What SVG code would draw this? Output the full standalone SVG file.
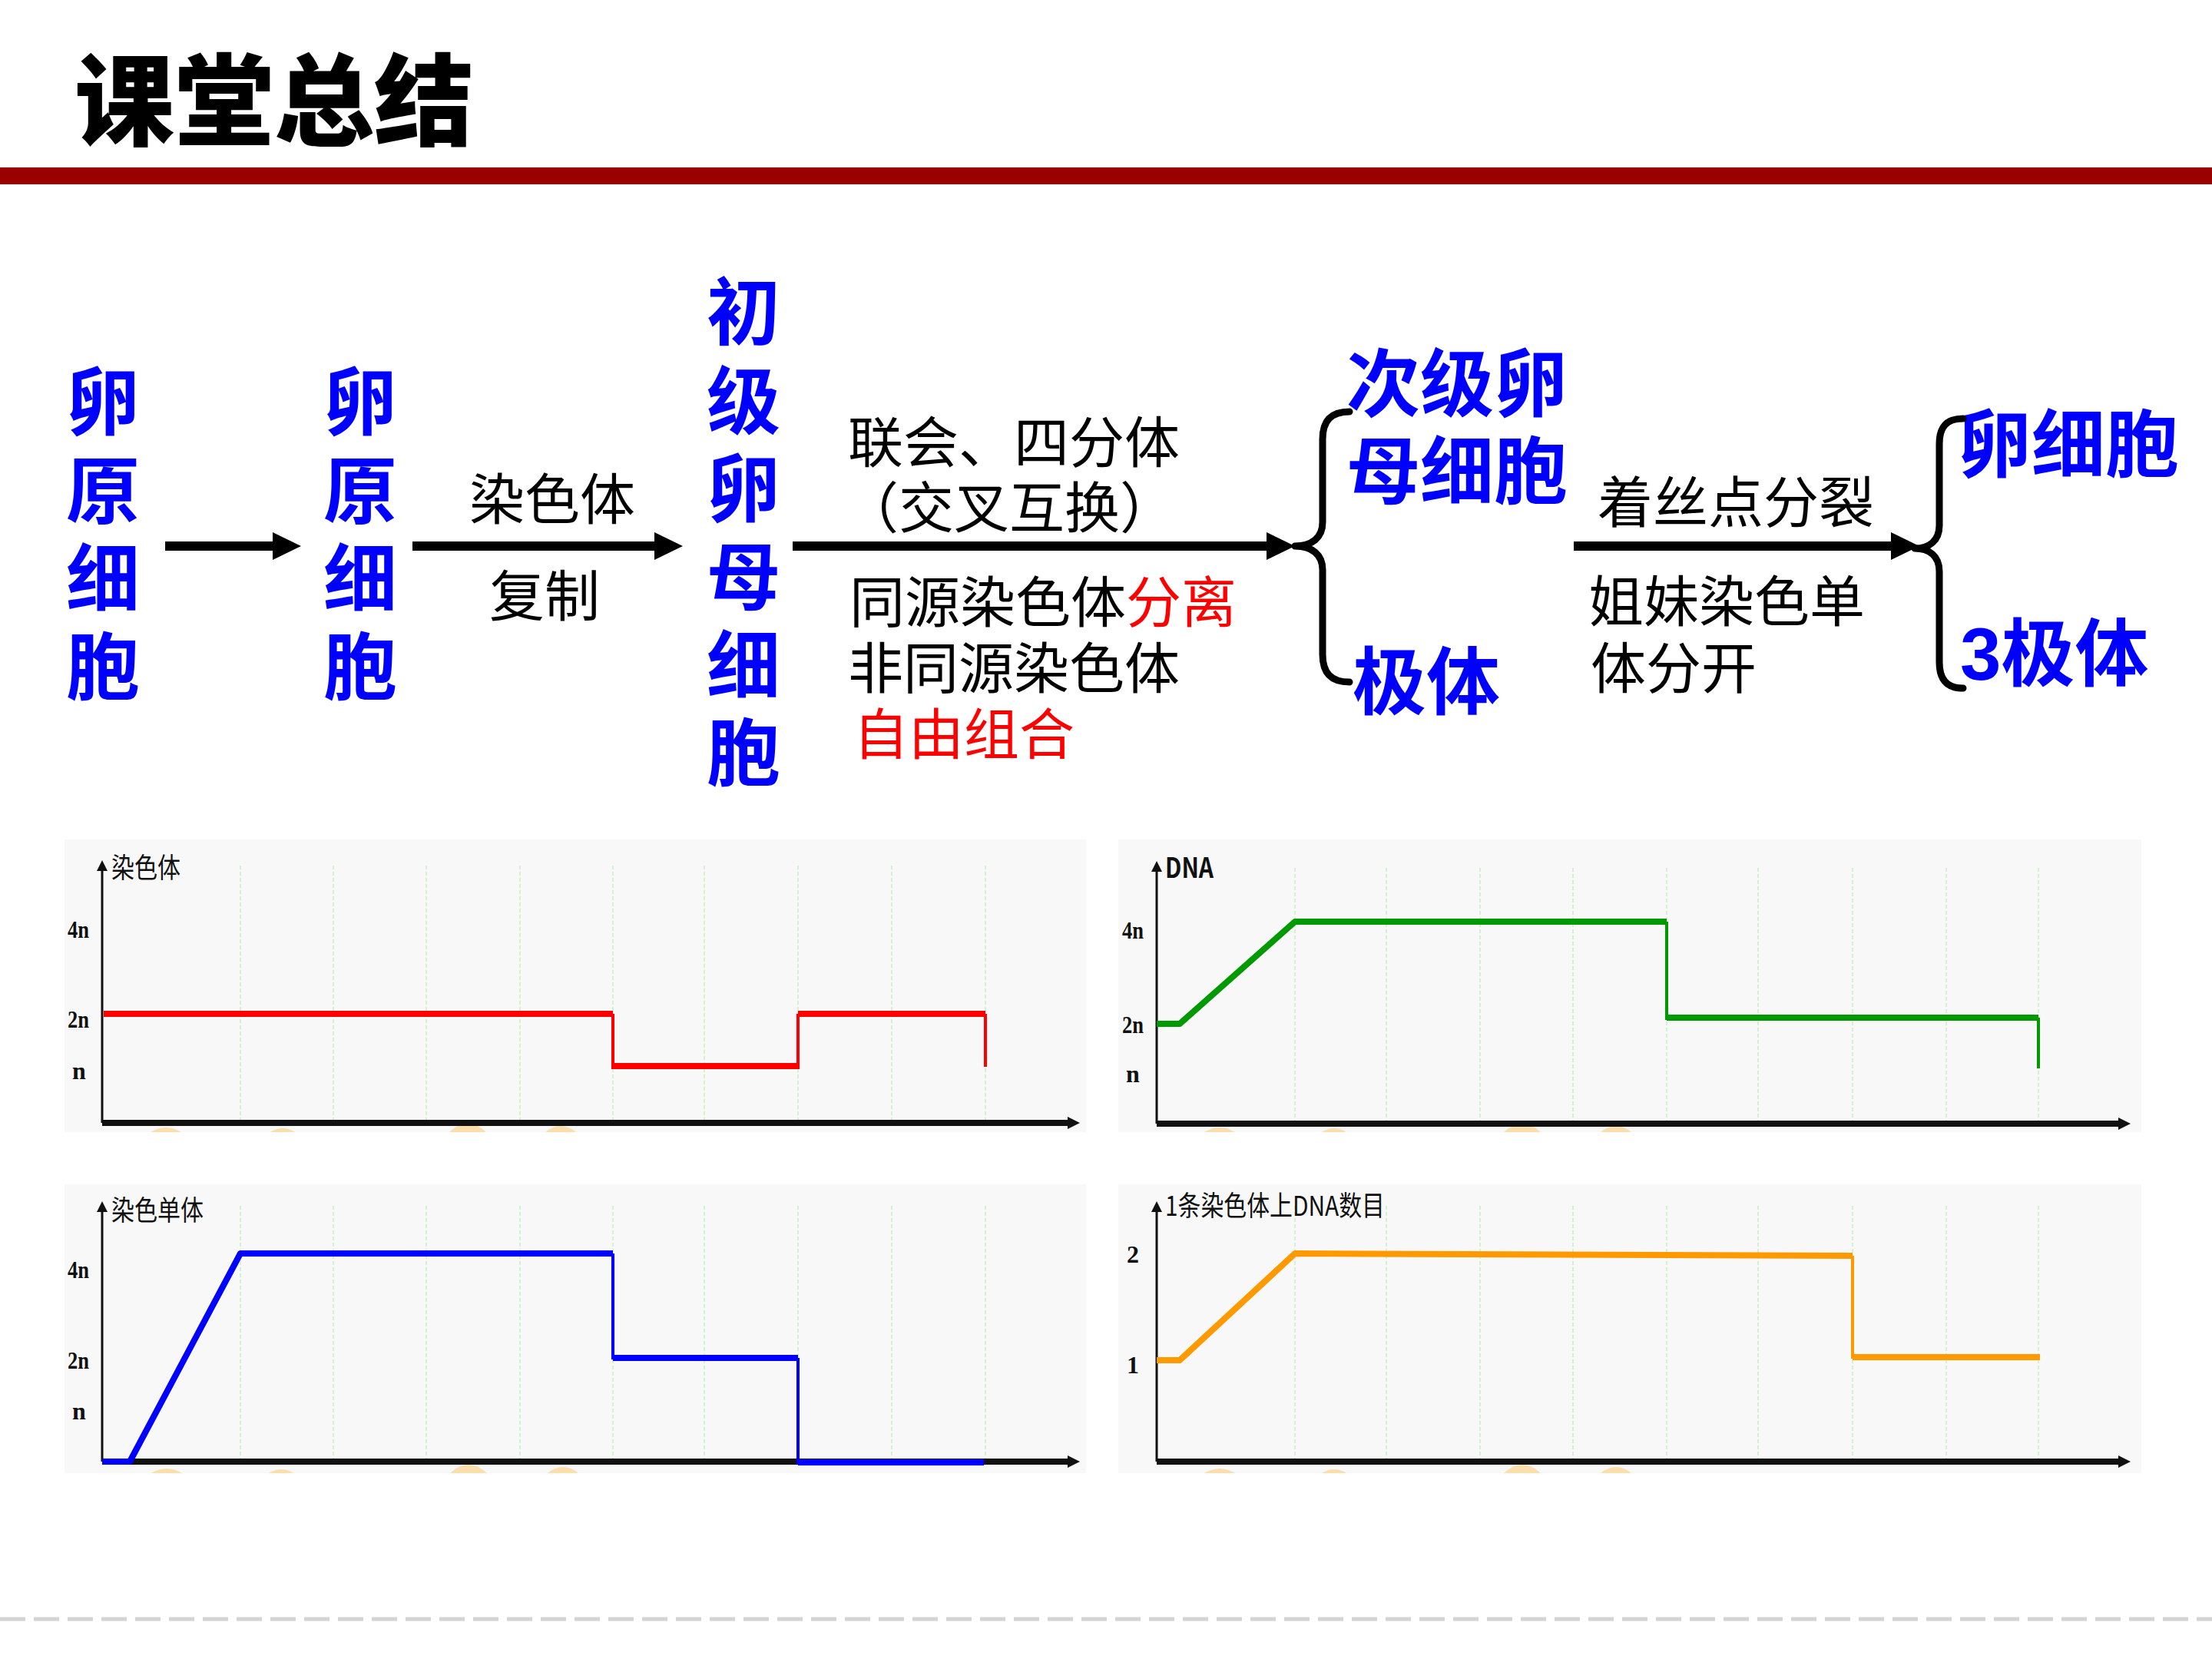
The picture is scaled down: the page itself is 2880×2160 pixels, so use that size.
<svg xmlns="http://www.w3.org/2000/svg" width="2880" height="2160" viewBox="0 0 2880 2160">
<defs>
<style>
.title{font-family:"Noto Sans CJK SC","Noto Sans",sans-serif;font-weight:900;font-size:130px;fill:#000}
.blue{font-family:"Liberation Sans","Noto Sans CJK SC",sans-serif;font-weight:700;font-size:96px;fill:#0000FF;dominant-baseline:central}
.body{font-family:"Liberation Sans","Noto Sans CJK SC",sans-serif;font-weight:400;font-size:72px;fill:#000;dominant-baseline:central}
.red{fill:#FF0000}
.conn{stroke:#000;stroke-width:12;fill:none}
.brace{stroke:#000;stroke-width:9;fill:none;stroke-linecap:round;stroke-linejoin:round}
.panel{fill:#f8f8f8}
.grid{stroke:#c9efc9;stroke-width:1.6;stroke-dasharray:5 3}
.axis{stroke:#111;stroke-width:3;fill:none}
.xaxis{stroke:#111;stroke-width:8;fill:none}
.lab{font-family:"Liberation Serif","Noto Sans CJK SC",serif;font-weight:700;font-size:32px;fill:#111;text-anchor:middle;dominant-baseline:central}
.ctitle{font-family:"Noto Sans CJK SC","Noto Sans",sans-serif;font-size:36px;fill:#111;dominant-baseline:central}
.blob{fill:#FDD79A;opacity:0.8}
</style>
<marker id="ah" viewBox="0 0 37 36" refX="2" refY="18" markerWidth="37" markerHeight="36" markerUnits="userSpaceOnUse" orient="auto">
<path d="M0,0 L37,18 L0,36 Z" fill="#000"/>
</marker>
<marker id="sa" viewBox="0 0 14 14" refX="2" refY="7" markerWidth="14" markerHeight="14" markerUnits="userSpaceOnUse" orient="auto">
<path d="M0,0 L14,7 L0,14 Z" fill="#111"/>
</marker>
</defs>
<rect width="2880" height="2160" fill="#fff"/>

<g id="header">
<text class="title" x="97" y="122" dominant-baseline="central">课堂总结</text>
<rect x="0" y="218" width="2880" height="22" fill="#990000"/>
</g>

<g id="node-oogonium1">
<text class="blue" text-anchor="middle"><tspan x="134" y="524">卵</tspan><tspan x="134" y="640">原</tspan><tspan x="134" y="754">细</tspan><tspan x="134" y="869">胞</tspan></text>
</g>
<g id="node-oogonium2">
<text class="blue" text-anchor="middle"><tspan x="469" y="524">卵</tspan><tspan x="469" y="640">原</tspan><tspan x="469" y="754">细</tspan><tspan x="469" y="869">胞</tspan></text>
</g>
<g id="node-primary-oocyte">
<text class="blue" text-anchor="middle"><tspan x="968" y="407">初</tspan><tspan x="968" y="523">级</tspan><tspan x="968" y="637">卵</tspan><tspan x="968" y="752">母</tspan><tspan x="968" y="867">细</tspan><tspan x="968" y="981">胞</tspan></text>
</g>
<g id="node-secondary-oocyte">
<text class="blue"><tspan x="1753" y="500">次级卵</tspan><tspan x="1753" y="614">母细胞</tspan></text>
</g>
<g id="node-polar-body1">
<text class="blue" x="1761" y="888">极体</text>
</g>
<g id="node-egg">
<text class="blue" x="2549" y="579">卵细胞</text>
</g>
<g id="node-polar-body3">
<text class="blue" x="2552" y="851">3极体</text>
</g>

<g id="connectors">
<line class="conn" x1="215" y1="711" x2="357" y2="711" marker-end="url(#ah)"/>
<line class="conn" x1="537" y1="711" x2="854" y2="711" marker-end="url(#ah)"/>
<line class="conn" x1="1032" y1="711" x2="1651" y2="711" marker-end="url(#ah)"/>
<line class="conn" x1="2049" y1="711" x2="2464" y2="711" marker-end="url(#ah)"/>
<path class="brace" d="M1757 536 C1733 536 1722 548 1722 572 V680 C1722 700 1708 711 1686 711 C1708 711 1722 722 1722 742 V852 C1722 876 1733 888 1757 888"/>
<path class="brace" d="M2556 545 C2534 545 2525 556 2525 578 V684 C2525 704 2512 714 2493 714 C2512 714 2525 724 2525 744 V862 C2525 884 2534 896 2556 896"/>
</g>

<g id="label-replication">
<text class="body" x="719" y="651" text-anchor="middle">染色体</text>
<text class="body" x="709" y="777" text-anchor="middle">复制</text>
</g>
<g id="label-meiosis1">
<text class="body"><tspan x="1104" y="577">联会、四分体</tspan><tspan x="1098" y="662">（交叉互换）</tspan></text>
<text class="body"><tspan x="1106" y="785">同源染色体</tspan><tspan class="red">分离</tspan><tspan x="1104" y="871">非同源染色体</tspan><tspan class="red" x="1111" y="957">自由组合</tspan></text>
</g>
<g id="label-meiosis2">
<text class="body" x="2080" y="655">着丝点分裂</text>
<text class="body"><tspan x="2068" y="784">姐妹染色单</tspan><tspan x="2071" y="871">体分开</tspan></text>
</g>

<g id="chart-chromosome">
<rect class="panel" x="84" y="1093" width="1330" height="381"/>
<g class="grid">
<line x1="313" y1="1127" x2="313" y2="1462"/><line x1="434" y1="1127" x2="434" y2="1462"/><line x1="555" y1="1127" x2="555" y2="1462"/><line x1="677" y1="1127" x2="677" y2="1462"/><line x1="798" y1="1127" x2="798" y2="1462"/><line x1="917" y1="1127" x2="917" y2="1462"/><line x1="1039" y1="1127" x2="1039" y2="1462"/><line x1="1161" y1="1127" x2="1161" y2="1462"/><line x1="1283" y1="1127" x2="1283" y2="1462"/>
</g>
<path class="blob" d="M196 1474 Q216 1462 236 1474Z M352 1474 Q368 1464 384 1474Z M585 1474 Q609 1452 633 1474Z M710 1474 Q730 1458 750 1474Z"/>
<line class="axis" x1="133" y1="1462" x2="133" y2="1132" marker-end="url(#sa)"/>
<line class="xaxis" x1="133" y1="1462" x2="1392" y2="1462"/>
<path d="M1390 1454 L1406 1462 L1390 1470 Z" fill="#111"/>
<text class="ctitle" x="145" y="1127" textLength="90" lengthAdjust="spacingAndGlyphs">染色体</text>
<text class="lab" x="102" y="1210" textLength="28" lengthAdjust="spacingAndGlyphs">4n</text>
<text class="lab" x="102" y="1327" textLength="28" lengthAdjust="spacingAndGlyphs">2n</text>
<text class="lab" x="103" y="1394">n</text>
<path d="M135 1320 H798 M798 1388 H1039 M1039 1320 H1283" stroke="#FF0000" stroke-width="8" fill="none"/>
<path d="M798 1320 V1392 M1039 1392 V1320 M1283 1320 V1389" stroke="#FF0000" stroke-width="4" fill="none"/>
</g>

<g id="chart-dna">
<rect class="panel" x="1456" y="1093" width="1332" height="381"/>
<g class="grid">
<line x1="1686" y1="1130" x2="1686" y2="1463"/><line x1="1805" y1="1130" x2="1805" y2="1463"/><line x1="1927" y1="1130" x2="1927" y2="1463"/><line x1="2048" y1="1130" x2="2048" y2="1463"/><line x1="2170" y1="1130" x2="2170" y2="1463"/><line x1="2289" y1="1130" x2="2289" y2="1463"/><line x1="2412" y1="1130" x2="2412" y2="1463"/><line x1="2534" y1="1130" x2="2534" y2="1463"/><line x1="2654" y1="1130" x2="2654" y2="1463"/>
</g>
<path class="blob" d="M1568 1474 Q1588 1462 1608 1474Z M1721 1474 Q1737 1464 1753 1474Z M1958 1474 Q1982 1452 2006 1474Z M2084 1474 Q2104 1458 2124 1474Z"/>
<line class="axis" x1="1506" y1="1463" x2="1506" y2="1133" marker-end="url(#sa)"/>
<line class="xaxis" x1="1506" y1="1463" x2="2760" y2="1463"/>
<path d="M2758 1455 L2774 1463 L2758 1471 Z" fill="#111"/>
<text class="ctitle" x="1517" y="1127" textLength="63" lengthAdjust="spacingAndGlyphs" font-family="Liberation Sans" font-weight="700">DNA</text>
<text class="lab" x="1475" y="1211" textLength="28" lengthAdjust="spacingAndGlyphs">4n</text>
<text class="lab" x="1475" y="1334" textLength="28" lengthAdjust="spacingAndGlyphs">2n</text>
<text class="lab" x="1475" y="1398">n</text>
<path d="M1506 1333 H1536 L1686 1200 H2170 M2170 1325 H2654" stroke="#009900" stroke-width="8" fill="none" stroke-linejoin="round"/>
<path d="M2170 1200 V1328 M2654 1325 V1391" stroke="#009900" stroke-width="4" fill="none"/>
</g>

<g id="chart-chromatid">
<rect class="panel" x="84" y="1542" width="1330" height="376"/>
<g class="grid">
<line x1="313" y1="1570" x2="313" y2="1903"/><line x1="434" y1="1570" x2="434" y2="1903"/><line x1="555" y1="1570" x2="555" y2="1903"/><line x1="677" y1="1570" x2="677" y2="1903"/><line x1="798" y1="1570" x2="798" y2="1903"/><line x1="917" y1="1570" x2="917" y2="1903"/><line x1="1039" y1="1570" x2="1039" y2="1903"/><line x1="1161" y1="1570" x2="1161" y2="1903"/><line x1="1283" y1="1570" x2="1283" y2="1903"/>
</g>
<path class="blob" d="M197 1918 Q217 1906 237 1918Z M350 1918 Q366 1908 382 1918Z M586 1918 Q610 1896 634 1918Z M713 1918 Q733 1902 753 1918Z"/>
<line class="axis" x1="133" y1="1903" x2="133" y2="1576" marker-end="url(#sa)"/>
<line class="xaxis" x1="133" y1="1903" x2="1392" y2="1903"/>
<path d="M1390 1895 L1406 1903 L1390 1911 Z" fill="#111"/>
<text class="ctitle" x="145" y="1573" textLength="120" lengthAdjust="spacingAndGlyphs">染色单体</text>
<text class="lab" x="102" y="1653" textLength="28" lengthAdjust="spacingAndGlyphs">4n</text>
<text class="lab" x="102" y="1771" textLength="28" lengthAdjust="spacingAndGlyphs">2n</text>
<text class="lab" x="103" y="1837">n</text>
<path d="M133 1903 H169 L313 1632 H798 M798 1768 H1039 M1039 1904 H1281" stroke="#0000FF" stroke-width="8" fill="none" stroke-linejoin="round"/>
<path d="M798 1632 V1770 M1039 1768 V1906" stroke="#0000FF" stroke-width="4" fill="none"/>
</g>

<g id="chart-dna-per-chromosome">
<rect class="panel" x="1456" y="1542" width="1332" height="376"/>
<g class="grid">
<line x1="1686" y1="1570" x2="1686" y2="1903"/><line x1="1805" y1="1570" x2="1805" y2="1903"/><line x1="1927" y1="1570" x2="1927" y2="1903"/><line x1="2048" y1="1570" x2="2048" y2="1903"/><line x1="2170" y1="1570" x2="2170" y2="1903"/><line x1="2289" y1="1570" x2="2289" y2="1903"/><line x1="2412" y1="1570" x2="2412" y2="1903"/><line x1="2534" y1="1570" x2="2534" y2="1903"/><line x1="2654" y1="1570" x2="2654" y2="1903"/>
</g>
<path class="blob" d="M1568 1918 Q1588 1906 1608 1918Z M1721 1918 Q1737 1908 1753 1918Z M1958 1918 Q1982 1896 2006 1918Z M2084 1918 Q2104 1902 2124 1918Z"/>
<line class="axis" x1="1506" y1="1903" x2="1506" y2="1576" marker-end="url(#sa)"/>
<line class="xaxis" x1="1506" y1="1903" x2="2760" y2="1903"/>
<path d="M2758 1895 L2774 1903 L2758 1911 Z" fill="#111"/>
<text class="ctitle" x="1517" y="1567" textLength="286" lengthAdjust="spacingAndGlyphs" font-family="Liberation Serif, Noto Sans CJK SC, serif">1条染色体上DNA数目</text>
<text class="lab" x="1475" y="1633">2</text>
<text class="lab" x="1475" y="1777">1</text>
<path d="M1506 1771 H1536 L1686 1632 L2412 1635 M2412 1767 H2656" stroke="#FF9900" stroke-width="8" fill="none" stroke-linejoin="round"/>
<path d="M2412 1635 V1769" stroke="#FF9900" stroke-width="4" fill="none"/>
</g>

<line x1="0" y1="2108" x2="2880" y2="2108" stroke="#d3d3d3" stroke-width="5" stroke-dasharray="33 11"/>
</svg>
